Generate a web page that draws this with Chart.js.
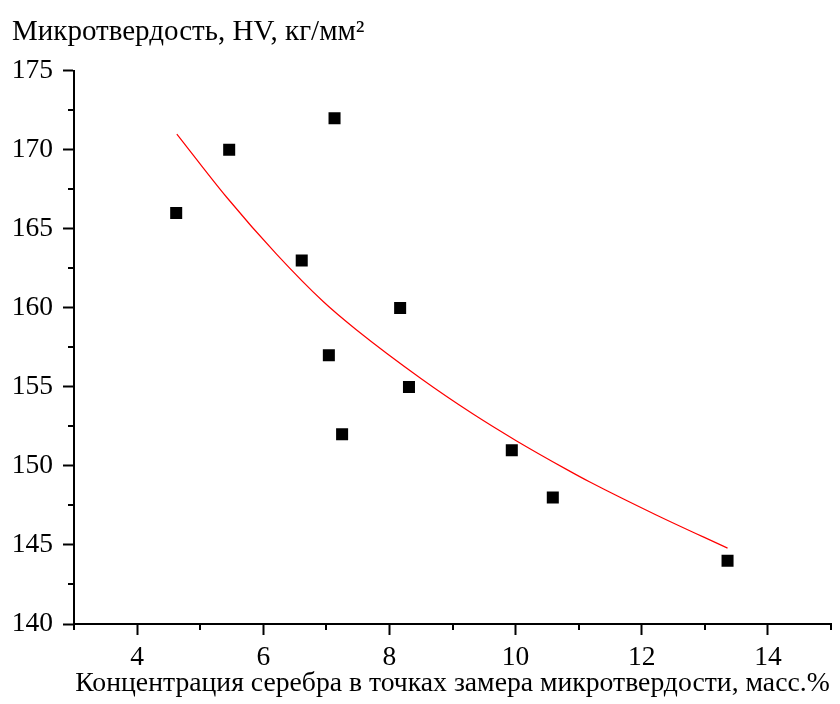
<!DOCTYPE html>
<html>
<head>
<meta charset="utf-8">
<script src="https://cdn.jsdelivr.net/npm/chart.js@4"></script>
<style>
    body { margin: 0; background: #fff; }
    #wrap { width: 840px; height: 704px; }
</style>
</head>
<body>
<div id="wrap"><canvas id="hvChart" width="840" height="704"></canvas></div>
<script>
// measured points: Ag concentration (mass %) vs microhardness HV
const silverConc = [4.62, 5.46, 6.61, 7.13, 7.04, 7.25, 8.17, 8.31, 9.94, 10.59, 13.36];
const hardness = [166, 170, 163, 172, 157, 152, 160, 155, 151, 148, 144];

// fitted curve
const fitX = [4.63, 5.42, 6.21, 6.95, 7.48, 8.51, 9.32, 10.01, 10.80, 11.17, 12.23, 13.36];
const fitY = [171.0, 167.0, 163.4, 160.4, 158.6, 155.5, 153.3, 151.6, 149.8, 149.0, 146.9, 144.8];

const xMajor = [4, 6, 8, 10, 12, 14];
const xMinor = [3, 5, 7, 9, 11, 13, 15];
const yMinor = [142.5, 147.5, 152.5, 157.5, 162.5, 167.5, 172.5];

const serif = "'Liberation Serif', 'Times New Roman', serif";

const minorTicks = {
    id: 'minorTicks',
    afterDraw(chart) {
        const ctx = chart.ctx;
        const xs = chart.scales.x;
        const ys = chart.scales.y;
        const area = chart.chartArea;
        ctx.save();
        ctx.strokeStyle = '#000';
        ctx.lineWidth = 2;
        ctx.beginPath();
        xMinor.forEach(v => {
            const px = Math.round(xs.getPixelForValue(v));
            ctx.moveTo(px, area.bottom);
            ctx.lineTo(px, area.bottom + 6);
        });
        yMinor.forEach(v => {
            const py = Math.round(ys.getPixelForValue(v));
            ctx.moveTo(area.left - 6, py);
            ctx.lineTo(area.left, py);
        });
        ctx.stroke();
        ctx.restore();
    }
};

const ctx = document.getElementById('hvChart').getContext('2d');

const hvChart = new Chart(ctx, {
    type: 'scatter',
    data: {
        datasets: [{
            label: 'HV',
            data: silverConc.map((x, i) => ({ x: x, y: hardness[i] })),
            pointStyle: 'rect',
            pointRadius: 8.5,
            pointHoverRadius: 8.5,
            backgroundColor: '#000',
            borderColor: '#000',
            borderWidth: 0,
            order: 0
        }, {
            label: 'fit',
            type: 'line',
            data: fitX.map((x, i) => ({ x: x, y: fitY[i] })),
            borderColor: '#ff0000',
            borderWidth: 1.2,
            pointRadius: 0,
            fill: false,
            cubicInterpolationMode: 'monotone',
            order: 1
        }]
    },
    options: {
        responsive: false,
        animation: false,
        layout: { padding: { left: 12, right: 9, top: 0, bottom: 0 } },
        plugins: {
            legend: { display: false },
            tooltip: { enabled: false },
            title: {
                display: true,
                text: 'Микротвердость, HV, кг/мм²',
                align: 'start',
                color: '#000',
                font: { family: serif, size: 29, weight: 'normal' },
                padding: { top: 15, bottom: 21 }
            }
        },
        scales: {
            x: {
                type: 'linear',
                min: 3,
                max: 15,
                afterBuildTicks: scale => {
                    scale.ticks = xMajor.map(v => ({ value: v }));
                },
                afterFit: scale => { scale.height = 80; },
                grid: {
                    drawOnChartArea: false,
                    drawTicks: true,
                    tickLength: 11,
                    tickColor: '#000',
                    tickWidth: 2
                },
                border: { color: '#000', width: 2 },
                ticks: {
                    color: '#000',
                    padding: 6,
                    maxRotation: 0,
                    font: { family: serif, size: 27.5 }
                },
                title: {
                    display: true,
                    text: 'Концентрация серебра в точках замера микротвердости, масс.%',
                    color: '#000',
                    font: { family: serif, size: 27.7 },
                    padding: { top: 0, bottom: 4 }
                }
            },
            y: {
                type: 'linear',
                min: 140,
                max: 175,
                afterFit: scale => { scale.width = 62; },
                grid: {
                    drawOnChartArea: false,
                    drawTicks: true,
                    tickLength: 11,
                    tickColor: '#000',
                    tickWidth: 2
                },
                border: { color: '#000', width: 2 },
                ticks: {
                    stepSize: 5,
                    color: '#000',
                    padding: 10,
                    font: { family: serif, size: 27.5 }
                }
            }
        }
    },
    plugins: [minorTicks]
});
</script>
</body>
</html>
